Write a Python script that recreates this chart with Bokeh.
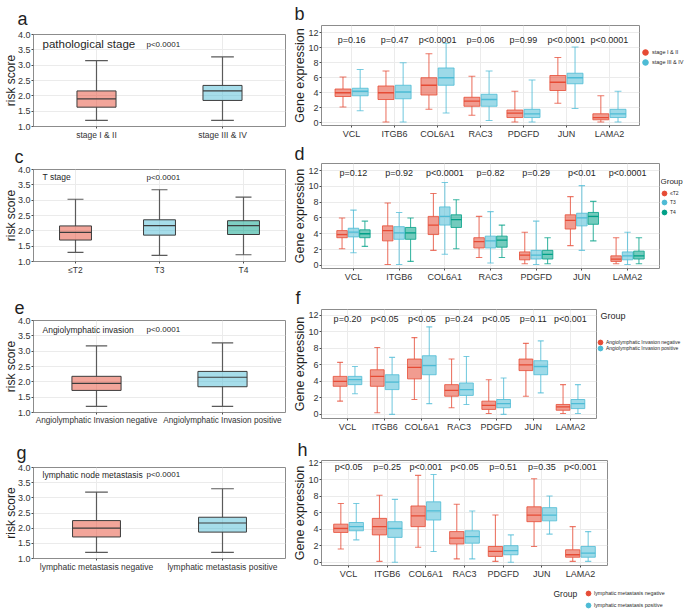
from bokeh.plotting import figure
from bokeh.models import (FactorRange, Range1d, FixedTicker, PrintfTickFormatter,
                          ColumnDataSource, Label, Legend, LegendItem)
from bokeh.transform import dodge
from bokeh.layouts import row, column
from bokeh.embed import file_html
from bokeh.resources import INLINE
from bokeh.core.properties import value

FONT = "Liberation Sans"
RED, BLUE, GREEN = "#E64B35", "#4DBBD5", "#00A087"
TXT = "#1F1F1F"

# ======================= DATA =======================
risk_ticks = [1.0, 1.5, 2.0, 2.5, 3.0, 3.5, 4.0]
gene_ticks = [0, 2, 4, 6, 8, 10, 12]
genes = ["VCL", "ITGB6", "COL6A1", "RAC3", "PDGFD", "JUN", "LAMA2"]

# ---- panel a : risk score by pathological stage ----
a_groups = ["stage I & II", "stage III & IV"]
a_lower = [1.20, 1.20]
a_q1 = [1.63, 1.85]
a_med = [1.90, 2.16]
a_q3 = [2.16, 2.34]
a_upper = [3.15, 3.27]

# ---- panel c : risk score by T stage ----
c_groups = ["≤T2", "T3", "T4"]
c_lower = [1.30, 1.20, 1.22]
c_q1 = [1.70, 1.86, 1.88]
c_med = [1.95, 2.17, 2.17]
c_q3 = [2.16, 2.36, 2.33]
c_upper = [3.03, 3.34, 3.10]

# ---- panel e : risk score by angiolymphatic invasion ----
e_groups = ["Angiolymphatic Invasion negative", "Angiolymphatic Invasion positive"]
e_lower = [1.20, 1.20]
e_q1 = [1.72, 1.84]
e_med = [1.95, 2.15]
e_q3 = [2.18, 2.34]
e_upper = [3.17, 3.27]

# ---- panel g : risk score by lymphatic metastasis ----
g_groups = ["lymphatic metastasis negative", "lymphatic metastasis positive"]
g_lower = [1.20, 1.20]
g_q1 = [1.71, 1.87]
g_med = [2.00, 2.17]
g_q3 = [2.25, 2.36]
g_upper = [3.19, 3.30]

# ---- panel b : gene expression by stage (one list per group, one value per gene) ----
b_groups = ["stage I & II", "stage III & IV"]
b_lower = [[2.1, 0.1, 1.8, 1.0, 0.1, 2.6, 0.1], [1.6, 0.1, 1.3, 0.3, 0.1, 1.9, 0.1]]
b_q1 = [[3.5, 3.1, 3.7, 2.2, 0.7, 4.3, 0.4], [3.6, 3.2, 5.0, 2.2, 0.7, 5.2, 0.7]]
b_med = [[4.0, 4.0, 5.0, 2.9, 1.3, 5.4, 0.7], [4.2, 4.1, 6.0, 3.1, 1.2, 6.0, 1.2]]
b_q3 = [[4.5, 4.9, 6.0, 3.4, 1.7, 6.3, 1.2], [4.6, 5.0, 7.3, 3.8, 1.8, 6.6, 1.8]]
b_upper = [[6.1, 6.9, 9.2, 6.2, 4.2, 8.7, 3.6], [7.1, 8.0, 10.6, 6.9, 5.7, 10.1, 4.2]]
b_p = ["p=0.16", "p=0.47", "p<0.0001", "p=0.06", "p=0.99", "p<0.0001", "p<0.0001"]

# ---- panel d : gene expression by T stage ----
d_groups = ["≤T2", "T3", "T4"]
d_lower = [[2.1, 0.1, 1.9, 1.0, 0.2, 2.5, 0.2], [1.6, 0.1, 1.4, 0.3, 0.1, 1.9, 0.1],
           [2.4, 0.5, 2.1, 1.0, 0.2, 3.1, 0.2]]
d_q1 = [[3.5, 3.1, 3.9, 2.2, 0.7, 4.6, 0.5], [3.6, 3.3, 5.1, 2.2, 0.8, 5.0, 0.7],
        [3.5, 3.3, 4.8, 2.3, 0.8, 5.2, 0.8]]
d_med = [[3.9, 4.4, 5.1, 3.0, 1.3, 5.7, 0.8], [4.2, 4.1, 6.2, 3.1, 1.3, 6.0, 1.2],
         [4.0, 4.1, 5.8, 3.2, 1.4, 6.2, 1.2]]
d_q3 = [[4.4, 5.0, 6.2, 3.5, 1.7, 6.4, 1.2], [4.7, 4.9, 7.4, 3.7, 1.9, 6.6, 1.7],
        [4.5, 4.8, 6.4, 3.7, 1.9, 6.7, 1.8]]
d_upper = [[6.0, 7.9, 9.1, 6.2, 4.2, 8.7, 3.5], [7.0, 6.7, 10.5, 6.8, 5.6, 10.1, 4.2],
           [5.6, 6.0, 8.3, 5.1, 3.5, 8.1, 3.5]]
d_p = ["p=0.12", "p=0.92", "p<0.0001", "p=0.82", "p=0.29", "p<0.01", "p<0.0001"]

# ---- panel f : gene expression by angiolymphatic invasion ----
f_groups = ["Angiolymphatic Invasion negative", "Angiolymphatic Invasion positive"]
f_lower = [[1.6, 0.2, 1.8, 0.8, 0.1, 2.2, 0.1], [2.5, 0.0, 1.3, 1.2, 0.0, 2.6, 0.1]]
f_q1 = [[3.4, 3.4, 4.3, 2.2, 0.6, 5.3, 0.5], [3.6, 3.0, 4.8, 2.3, 0.8, 4.8, 0.7]]
f_med = [[4.0, 4.6, 5.7, 2.9, 1.1, 6.0, 0.9], [4.2, 3.9, 5.9, 3.0, 1.3, 5.8, 1.3]]
f_q3 = [[4.6, 5.4, 6.7, 3.6, 1.6, 6.7, 1.2], [4.6, 4.8, 7.1, 3.8, 1.8, 6.5, 1.8]]
f_upper = [[6.3, 8.1, 9.3, 6.7, 4.2, 8.6, 3.6], [5.8, 6.9, 10.6, 7.0, 4.4, 8.9, 3.6]]
f_p = ["p=0.20", "p<0.05", "p<0.05", "p=0.24", "p<0.05", "p=0.11", "p<0.001"]

# ---- panel h : gene expression by lymphatic metastasis ----
h_groups = ["lymphatic metastasis negative", "lymphatic metastasis positive"]
h_lower = [[1.6, 0.1, 1.8, 0.4, 0.1, 1.9, 0.1], [2.7, 0.0, 1.3, 0.4, 0.0, 3.4, 0.1]]
h_q1 = [[3.6, 3.3, 4.3, 2.2, 0.7, 4.9, 0.6], [3.8, 3.0, 5.1, 2.3, 0.9, 5.0, 0.6]]
h_med = [[4.1, 4.3, 5.6, 2.9, 1.3, 5.7, 0.9], [4.3, 4.1, 6.2, 3.1, 1.4, 5.7, 1.1]]
h_q3 = [[4.6, 5.3, 6.8, 3.7, 1.9, 6.7, 1.5], [4.8, 4.9, 7.3, 3.8, 2.0, 6.6, 1.9]]
h_upper = [[7.1, 8.1, 10.5, 7.0, 5.7, 10.1, 4.3], [7.1, 7.6, 10.6, 6.2, 3.3, 8.0, 3.7]]
h_p = ["p<0.05", "p=0.25", "p<0.001", "p<0.05", "p=0.51", "p=0.35", "p<0.001"]

# ======================= LAYOUT HELPERS =======================


def make_fig(geo, x_range, y_range):
    fx0, fy0, fx1, fy1 = geo["fig"]
    L, T, R, B = geo["frame"]
    top_border = T - fy0
    p = figure(width=fx1 - fx0, height=fy1 - fy0,
               x_range=x_range, y_range=y_range,
               output_backend="svg", toolbar_location=None,
               min_border_left=L - fx0, min_border_right=fx1 - R,
               min_border_top=top_border, min_border_bottom=fy1 - B)
    # panel letter as the figure title
    lx, base = geo["letter"]
    p.title.text = geo["name"]
    p.title.text_font = FONT
    p.title.text_font_size = "18px"
    p.title.text_font_style = "normal"
    p.title.text_color = TXT
    p.title.align = "left"
    p.title.offset = lx - L
    wanted = T - base - 4
    p.title.standoff = max(0, min(wanted, top_border - 21))
    p.outline_line_color = "#8C8C8C"
    p.outline_line_width = 1
    p.background_fill_color = "white"
    p.border_fill_color = "white"
    for ax in (p.xaxis[0], p.yaxis[0]):
        ax.axis_line_color = None
        ax.major_tick_line_color = "#4D4D4D"
        ax.major_tick_in = 0
        ax.minor_tick_line_color = None
        ax.major_label_text_font = FONT
        ax.major_label_text_color = "#333333"
        ax.axis_label_text_font = FONT
        ax.axis_label_text_font_style = "normal"
        ax.axis_label_text_color = TXT
    p.xaxis.major_tick_out = 2
    p.xaxis.major_label_standoff = 1
    p.yaxis.major_tick_out = 2
    p.xgrid.grid_line_color = "#EBEBEB"
    p.ygrid.grid_line_color = "#EBEBEB"
    return p


def left_panel(geo, cats, lower, q1, med, q3, upper, colors, box_w, cap_w,
               title, title_size, title_y, title_x, p_x, xfs="8.5px"):
    L = geo["frame"][0]
    xr = FactorRange(*cats)
    p = make_fig(geo, xr, Range1d(1.0, 4.0))
    p.yaxis.ticker = FixedTicker(ticks=risk_ticks)
    p.yaxis.formatter = PrintfTickFormatter(format="%.1f")
    p.yaxis.major_label_text_font_size = "9px"
    p.yaxis.major_label_standoff = 1
    p.yaxis.axis_label = "risk score"
    p.yaxis.axis_label_text_font_size = "12px"
    p.yaxis.axis_label_standoff = -3
    p.xaxis.major_label_text_font_size = xfs
    src = ColumnDataSource(dict(cat=cats, lower=lower, q1=q1, med=med, q3=q3,
                                upper=upper, color=colors))
    wcol = "#5A5A5A"
    p.segment(x0="cat", y0="q3", x1="cat", y1="upper", source=src, line_color=wcol, line_width=1.2)
    p.segment(x0="cat", y0="q1", x1="cat", y1="lower", source=src, line_color=wcol, line_width=1.2)
    p.segment(x0=dodge("cat", -cap_w / 2, range=xr), y0="upper",
              x1=dodge("cat", cap_w / 2, range=xr), y1="upper", source=src,
              line_color=wcol, line_width=1.2)
    p.segment(x0=dodge("cat", -cap_w / 2, range=xr), y0="lower",
              x1=dodge("cat", cap_w / 2, range=xr), y1="lower", source=src,
              line_color=wcol, line_width=1.2)
    p.vbar(x="cat", top="q3", bottom="q1", width=box_w, source=src,
           fill_color="color", fill_alpha=0.5, line_color="#3C3C3C", line_width=1)
    p.segment(x0=dodge("cat", -box_w / 2, range=xr), y0="med",
              x1=dodge("cat", box_w / 2, range=xr), y1="med", source=src,
              line_color="#3C3C3C", line_width=1.2)
    p.add_layout(Label(x=title_x - L, y=title_y, x_units="screen", y_units="data",
                       text=title, text_font=FONT, text_font_size=title_size,
                       text_color=TXT, text_baseline="middle"))
    p.add_layout(Label(x=p_x - L, y=title_y, x_units="screen", y_units="data",
                       text="p<0.0001", text_font=FONT, text_font_size="8px",
                       text_color=TXT, text_baseline="middle"))
    return p


def right_panel(geo, yr, colors, offsets, box_w, cap_w, lower, q1, med, q3, upper,
                pvals, p_y):
    xr = FactorRange(*genes, range_padding=0.2, range_padding_units="absolute")
    p = make_fig(geo, xr, Range1d(*yr))
    p.yaxis.ticker = FixedTicker(ticks=gene_ticks)
    p.yaxis.major_label_text_font_size = "9px"
    p.yaxis.major_label_standoff = 1
    p.yaxis.axis_label = "Gene expression"
    p.yaxis.axis_label_text_font_size = "12.5px"
    p.yaxis.axis_label_standoff = -2
    p.xaxis.major_label_text_font_size = "9px"
    for gi, (col, off) in enumerate(zip(colors, offsets)):
        src = ColumnDataSource(dict(gene=genes, lower=lower[gi], q1=q1[gi], med=med[gi],
                                    q3=q3[gi], upper=upper[gi]))
        kw = dict(source=src, line_color=col, line_alpha=0.75, line_width=1.1)
        p.segment(x0=dodge("gene", off, range=xr), y0="q3",
                  x1=dodge("gene", off, range=xr), y1="upper", **kw)
        p.segment(x0=dodge("gene", off, range=xr), y0="q1",
                  x1=dodge("gene", off, range=xr), y1="lower", **kw)
        p.segment(x0=dodge("gene", off - cap_w / 2, range=xr), y0="upper",
                  x1=dodge("gene", off + cap_w / 2, range=xr), y1="upper", **kw)
        p.segment(x0=dodge("gene", off - cap_w / 2, range=xr), y0="lower",
                  x1=dodge("gene", off + cap_w / 2, range=xr), y1="lower", **kw)
        p.vbar(x=dodge("gene", off, range=xr), top="q3", bottom="q1", width=box_w,
               source=src, fill_color=col, fill_alpha=0.55, line_color=col,
               line_alpha=0.8, line_width=1)
        p.segment(x0=dodge("gene", off - box_w / 2, range=xr), y0="med",
                  x1=dodge("gene", off + box_w / 2, range=xr), y1="med", source=src,
                  line_color=col, line_width=1.3)
    psrc = ColumnDataSource(dict(gene=genes, p=pvals, y=[p_y] * len(genes)))
    p.text(x="gene", y="y", text="p", source=psrc, text_font=value(FONT),
           text_font_size=value("9px"), text_color=TXT, text_align="center",
           text_baseline="middle")
    return p


def legend_fig(box, labels, colors, cx, cys, diam, size, group=None):
    """A small canvas of its own (no axes) holding the legend, so nothing is clipped.
    One Legend per entry, so each entry can sit exactly where the reference has it."""
    x0, y0, x1, y1 = box
    p = figure(width=x1 - x0, height=y1 - y0,
               x_range=Range1d(0, 1), y_range=Range1d(0, 1),
               x_axis_type=None, y_axis_type=None,
               output_backend="svg", toolbar_location=None,
               min_border_left=0, min_border_right=0,
               min_border_top=0, min_border_bottom=0)
    p.outline_line_color = None
    p.background_fill_color = "white"
    p.border_fill_color = "white"
    G = int(round(diam / 0.4))
    for lab, col, cy in zip(labels, colors, cys):
        # one point placed outside the visible range: only its legend swatch shows
        r = p.scatter(x=[-5], y=[-5], marker="circle", size=diam,
                      fill_color=col, line_color=col)
        leg = Legend(items=[LegendItem(label=lab, renderers=[r])],
                     location=(round(cx - G / 2) - x0, y1 - round(cy + G / 2)),
                     padding=0, margin=0, spacing=0,
                     glyph_width=G, glyph_height=G, label_height=G, label_width=10,
                     label_standoff=0,
                     label_text_font=FONT, label_text_font_size=size,
                     label_text_color=TXT, border_line_color=None,
                     background_fill_alpha=0)
        p.add_layout(leg)
    if group:
        gx, gy, gsize = group
        p.add_layout(Label(x=gx - x0, y=y1 - gy, x_units="screen",
                           y_units="screen", text="Group", text_font=FONT,
                           text_font_size=gsize, text_color=TXT, text_baseline="middle"))
    return p


# geometry (page pixels: fig box x0,y0,x1,y1 ; frame L,T,R,B ; letter x, baseline)
GEO = {
    "a": dict(name="a", fig=(0, 0, 290, 142), frame=(24, 33, 287, 128), letter=(8, 13)),
    "c": dict(name="c", fig=(0, 142, 290, 286), frame=(24, 168, 287, 261), letter=(5, 156)),
    "e": dict(name="e", fig=(0, 286, 290, 436), frame=(24, 320, 288, 412), letter=(5, 300)),
    "g": dict(name="g", fig=(0, 436, 290, 611), frame=(24, 466, 285, 558), letter=(7, 448)),
    "b": dict(name="b", fig=(290, 0, 641, 141), frame=(320, 24, 639, 128), letter=(293, 13)),
    "d": dict(name="d", fig=(290, 141, 660, 284), frame=(320, 162, 659, 269), letter=(293, 157)),
    "f": dict(name="f", fig=(290, 284, 597, 436), frame=(320, 308, 596, 418), letter=(294, 300)),
    "h": dict(name="h", fig=(290, 436, 685, 582), frame=(320, 459, 607, 565), letter=(296, 452)),
}

pa = left_panel(GEO["a"], a_groups, a_lower, a_q1, a_med, a_q3, a_upper, [RED, BLUE],
                0.31, 0.18, "pathological stage", "11.5px", 3.68, 33, 137)
pc = left_panel(GEO["c"], c_groups, c_lower, c_q1, c_med, c_q3, c_upper, [RED, BLUE, GREEN],
                0.38, 0.19, "T stage", "8.5px", 3.74, 33, 137)
pe = left_panel(GEO["e"], e_groups, e_lower, e_q1, e_med, e_q3, e_upper, [RED, BLUE],
                0.39, 0.17, "Angiolymphatic invasion", "8.5px", 3.70, 33, 137, xfs="8.2px")
pg = left_panel(GEO["g"], g_groups, g_lower, g_q1, g_med, g_q3, g_upper, [RED, BLUE],
                0.38, 0.18, "lymphatic node metastasis", "8.5px", 3.76, 33, 137)

pb = right_panel(GEO["b"], (-0.36, 12.96), [RED, BLUE], [-0.2, 0.2], 0.37, 0.16,
                 b_lower, b_q1, b_med, b_q3, b_upper, b_p, 11.0)
lb = legend_fig((641, 0, 685, 141), b_groups, [RED, BLUE], 645, [52, 62], 5.5, "5.5px")

pd_ = right_panel(GEO["d"], (-0.4, 12.9), [RED, BLUE, GREEN], [-0.25, 0.0, 0.25], 0.23, 0.14,
                  d_lower, d_q1, d_med, d_q3, d_upper, d_p, 11.7)
ld = legend_fig((660, 141, 685, 284), d_groups, [RED, BLUE, GREEN], 664.5, [193, 202.5, 212],
                4.8, "5px", group=(660, 181, "8px"))

pf = right_panel(GEO["f"], (-0.5, 12.7), [RED, BLUE], [-0.2, 0.2], 0.37, 0.16,
                 f_lower, f_q1, f_med, f_q3, f_upper, f_p, 11.5)
lf = legend_fig((597, 284, 685, 436), f_groups, [RED, BLUE], 599.5, [342, 348.5], 4.8, "5px",
                group=(600, 315, "9px"))

ph = right_panel(GEO["h"], (-0.4, 12.3), [RED, BLUE], [-0.2, 0.2], 0.37, 0.16,
                 h_lower, h_q1, h_med, h_q3, h_upper, h_p, 11.5)
lh = legend_fig((290, 582, 685, 611), h_groups, [RED, BLUE], 588, [593, 605], 5, "5.3px",
                group=(553, 593, "8.5px"))

# legend canvases are wrapped in their own layouts so their frames are not aligned
# with the neighbouring plots' frames
left_col = column(pa, pc, pe, pg)
right_col = column(row(pb, column(lb)), row(pd_, column(ld)), row(pf, column(lf)),
                   row(ph), row(lh))
layout = row(left_col, right_col)
open("out.html", "w").write(file_html(layout, INLINE))
